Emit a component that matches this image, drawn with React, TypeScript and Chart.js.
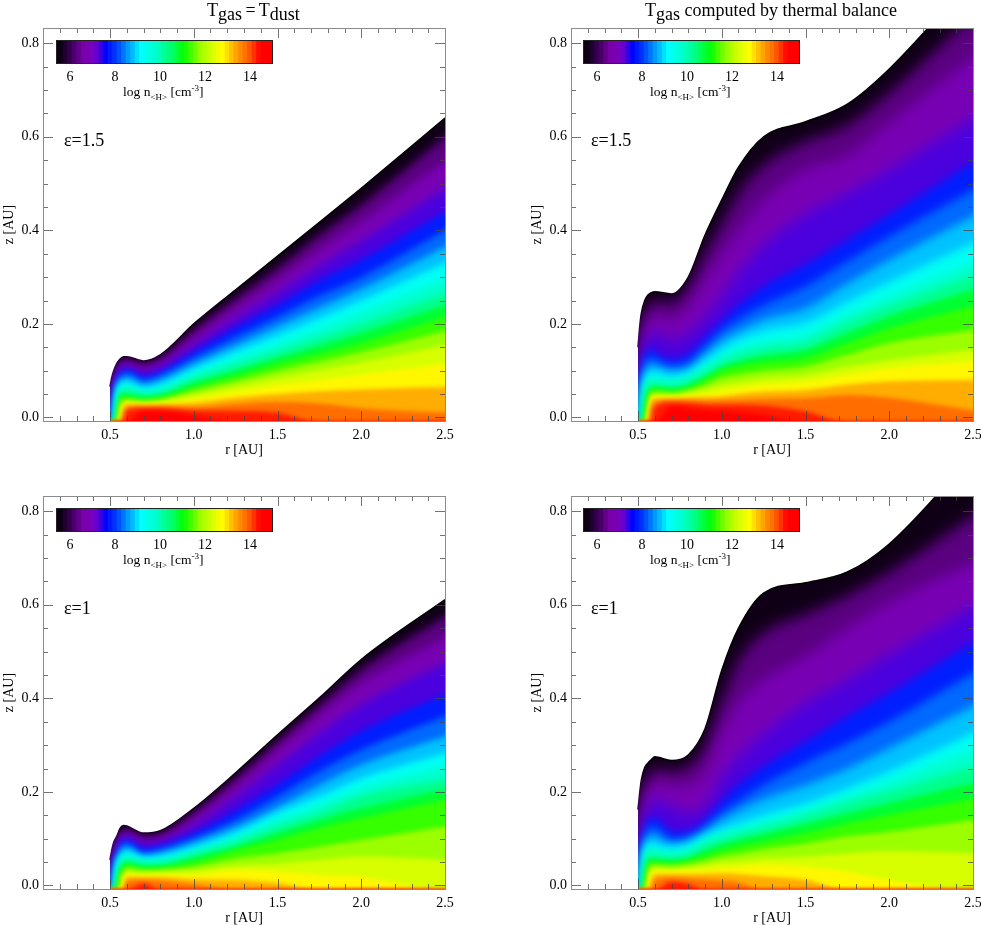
import React, { useEffect, useRef } from "react";
import { Chart, registerables } from "chart.js";

Chart.register(...registerables);

const SERIF = "'Liberation Serif', 'Times New Roman', serif";

// Contour levels: log n = 5.5, 6, 6.5 ... 14.5. Each column below lists z [AU] of these levels
// at one radius; a level missing from a column lies below the plot at that radius.
const LEVELS = [5.5, 6, 6.5, 7, 7.5, 8, 8.5, 9, 9.5, 10, 10.5, 11, 11.5, 12, 12.5, 13, 13.5, 14, 14.5];
const BELOW = -0.01;

const radiiDust = [0.5, 0.51, 0.52, 0.54, 0.56, 0.58, 0.6, 0.7, 0.8, 1, 1.25, 1.5, 1.75, 2, 2.5];
const radiiGas = [0.5, 0.51, 0.52, 0.54, 0.56, 0.58, 0.6, 0.7, 0.8, 0.9, 1, 1.1, 1.25, 1.5, 1.75, 2, 2.5];

// Top left: eps = 1.5, Tgas = Tdust
const a050 = [0.066, 0.04, 0.02, 0.0];
const a051 = [0.085, 0.07, 0.055, 0.04, 0.02];
const a052 = [0.098, 0.088, 0.078, 0.068, 0.055, 0.04, 0.025];
const a054 = [0.115, 0.108, 0.1, 0.09, 0.08, 0.072, 0.065, 0.055, 0.042, 0.03, 0.01];
const a056 = [0.125, 0.12, 0.113, 0.105, 0.097, 0.088, 0.08, 0.072, 0.063, 0.056, 0.048, 0.04, 0.03, 0.018];
const a058 = [0.13, 0.124, 0.117, 0.109, 0.101, 0.092, 0.083, 0.074, 0.065, 0.057, 0.05, 0.044, 0.038, 0.032, 0.027, 0.02, 0.005];
const a060 = [0.13, 0.125, 0.118, 0.11, 0.103, 0.095, 0.085, 0.076, 0.066, 0.058, 0.05, 0.044, 0.038, 0.034, 0.03, 0.027, 0.022, 0.015];
const a070 = [0.121, 0.115, 0.108, 0.098, 0.088, 0.08, 0.071, 0.063, 0.056, 0.05, 0.044, 0.039, 0.035, 0.031, 0.028, 0.026, 0.023, 0.02, 0.014];
const a080 = [0.134, 0.127, 0.118, 0.108, 0.098, 0.09, 0.08, 0.07, 0.061, 0.054, 0.048, 0.043, 0.038, 0.034, 0.03, 0.027, 0.024, 0.02, 0.014];
const a100 = [0.2, 0.187, 0.172, 0.155, 0.14, 0.127, 0.115, 0.103, 0.093, 0.083, 0.074, 0.065, 0.057, 0.049, 0.04, 0.031, 0.022, 0.015, 0.005];
const a125 = [0.273, 0.255, 0.235, 0.212, 0.192, 0.172, 0.155, 0.14, 0.125, 0.112, 0.1, 0.089, 0.078, 0.067, 0.055, 0.042, 0.029, 0.014];
const a150 = [0.345, 0.32, 0.295, 0.267, 0.24, 0.215, 0.195, 0.175, 0.157, 0.14, 0.127, 0.115, 0.1, 0.085, 0.069, 0.05, 0.033, 0.01];
const a175 = [0.417, 0.39, 0.36, 0.325, 0.293, 0.26, 0.235, 0.212, 0.19, 0.17, 0.153, 0.137, 0.12, 0.102, 0.08, 0.056, 0.03];
const a200 = [0.49, 0.455, 0.42, 0.378, 0.337, 0.3, 0.275, 0.25, 0.225, 0.2, 0.18, 0.16, 0.14, 0.118, 0.092, 0.06, 0.02];
const a250 = [0.64, 0.6, 0.55, 0.49, 0.44, 0.4, 0.365, 0.33, 0.295, 0.265, 0.24, 0.215, 0.185, 0.155, 0.115, 0.065, 0.01];
const columnsA = [a050, a051, a052, a054, a056, a058, a060, a070, a080, a100, a125, a150, a175, a200, a250];

// Top right: eps = 1.5, thermal balance
const b050 = [0.15, 0.1, 0.06, 0.03, 0.01];
const b051 = [0.194, 0.16, 0.13, 0.1, 0.07, 0.04, 0.01];
const b052 = [0.223, 0.19, 0.16, 0.13, 0.105, 0.085, 0.06, 0.04, 0.015];
const b054 = [0.25, 0.225, 0.195, 0.165, 0.135, 0.115, 0.095, 0.08, 0.065, 0.05, 0.03, 0.005];
const b056 = [0.262, 0.24, 0.21, 0.175, 0.145, 0.125, 0.108, 0.093, 0.08, 0.068, 0.058, 0.047, 0.035, 0.02];
const b058 = [0.267, 0.245, 0.218, 0.18, 0.15, 0.13, 0.113, 0.098, 0.085, 0.074, 0.065, 0.058, 0.052, 0.046, 0.04, 0.033, 0.02];
const b060 = [0.269, 0.25, 0.222, 0.185, 0.14, 0.125, 0.11, 0.097, 0.083, 0.073, 0.066, 0.06, 0.054, 0.049, 0.044, 0.04, 0.033, 0.022];
const b070 = [0.264, 0.245, 0.21, 0.165, 0.125, 0.11, 0.1, 0.088, 0.078, 0.07, 0.063, 0.057, 0.052, 0.047, 0.043, 0.04, 0.037, 0.032, 0.024];
const b080 = [0.3, 0.28, 0.24, 0.18, 0.135, 0.118, 0.105, 0.095, 0.086, 0.077, 0.07, 0.063, 0.058, 0.052, 0.047, 0.042, 0.037, 0.031, 0.02];
const b090 = [0.39, 0.35, 0.295, 0.215, 0.17, 0.15, 0.135, 0.12, 0.108, 0.097, 0.088, 0.08, 0.07, 0.06, 0.05, 0.043, 0.036, 0.028, 0.016];
const b100 = [0.465, 0.415, 0.35, 0.26, 0.205, 0.185, 0.165, 0.145, 0.13, 0.118, 0.108, 0.1, 0.085, 0.07, 0.056, 0.045, 0.037, 0.027, 0.014];
const b110 = [0.535, 0.48, 0.4, 0.31, 0.24, 0.21, 0.185, 0.165, 0.148, 0.133, 0.12, 0.109, 0.092, 0.076, 0.063, 0.05, 0.038, 0.027, 0.012];
const b125 = [0.6, 0.54, 0.465, 0.37, 0.28, 0.24, 0.21, 0.185, 0.162, 0.146, 0.132, 0.118, 0.1, 0.084, 0.07, 0.055, 0.04, 0.025, 0.006];
const b150 = [0.632, 0.59, 0.53, 0.435, 0.327, 0.28, 0.234, 0.202, 0.177, 0.159, 0.145, 0.127, 0.109, 0.091, 0.077, 0.059, 0.041, 0.013];
const b175 = [0.67, 0.625, 0.56, 0.48, 0.38, 0.334, 0.287, 0.247, 0.22, 0.202, 0.18, 0.159, 0.134, 0.109, 0.091, 0.07, 0.048];
const b200 = [0.745, 0.695, 0.63, 0.53, 0.434, 0.387, 0.337, 0.29, 0.259, 0.237, 0.216, 0.191, 0.159, 0.123, 0.105, 0.077, 0.042];
const b250 = [0.94, 0.86, 0.77, 0.64, 0.545, 0.487, 0.43, 0.373, 0.33, 0.302, 0.273, 0.238, 0.187, 0.145, 0.12, 0.08, 0.015];
const columnsB = [b050, b051, b052, b054, b056, b058, b060, b070, b080, b090, b100, b110, b125, b150, b175, b200, b250];

// Bottom left: eps = 1, Tgas = Tdust
const c050 = [0.055, 0.035, 0.015];
const c051 = [0.075, 0.06, 0.048, 0.032, 0.015];
const c052 = [0.09, 0.08, 0.07, 0.06, 0.048, 0.035, 0.02];
const c054 = [0.105, 0.098, 0.09, 0.08, 0.07, 0.062, 0.055, 0.047, 0.035, 0.022, 0.005];
const c056 = [0.122, 0.113, 0.105, 0.097, 0.088, 0.08, 0.07, 0.062, 0.054, 0.045, 0.036, 0.027, 0.015];
const c058 = [0.128, 0.12, 0.112, 0.105, 0.097, 0.088, 0.08, 0.07, 0.062, 0.053, 0.045, 0.038, 0.03, 0.022, 0.012];
const c060 = [0.127, 0.12, 0.113, 0.105, 0.098, 0.09, 0.08, 0.072, 0.063, 0.055, 0.05, 0.044, 0.037, 0.03, 0.024, 0.018, 0.01];
const c070 = [0.112, 0.105, 0.098, 0.09, 0.08, 0.07, 0.064, 0.059, 0.054, 0.047, 0.042, 0.037, 0.032, 0.027, 0.022, 0.017, 0.012, 0.004];
const c080 = [0.117, 0.11, 0.102, 0.094, 0.085, 0.077, 0.069, 0.062, 0.055, 0.048, 0.043, 0.038, 0.033, 0.028, 0.023, 0.017, 0.01];
const c100 = [0.165, 0.155, 0.145, 0.128, 0.112, 0.1, 0.092, 0.08, 0.074, 0.068, 0.06, 0.05, 0.04, 0.032, 0.023, 0.013, 0.002];
const c125 = [0.241, 0.229, 0.213, 0.19, 0.16, 0.14, 0.125, 0.112, 0.103, 0.093, 0.083, 0.076, 0.058, 0.042, 0.033, 0.012];
const c150 = [0.322, 0.308, 0.29, 0.258, 0.215, 0.19, 0.168, 0.155, 0.14, 0.126, 0.112, 0.098, 0.069, 0.047, 0.03, 0.005];
const c175 = [0.401, 0.386, 0.365, 0.326, 0.276, 0.244, 0.215, 0.19, 0.173, 0.155, 0.14, 0.123, 0.083, 0.055, 0.023];
const c200 = [0.483, 0.462, 0.433, 0.387, 0.33, 0.29, 0.258, 0.229, 0.208, 0.19, 0.165, 0.144, 0.097, 0.062, 0.019];
const c250 = [0.611, 0.575, 0.53, 0.476, 0.408, 0.362, 0.319, 0.283, 0.255, 0.226, 0.205, 0.183, 0.126, 0.055];
const columnsC = [c050, c051, c052, c054, c056, c058, c060, c070, c080, c100, c125, c150, c175, c200, c250];

// Bottom right: eps = 1, thermal balance
const d050 = [0.162, 0.11, 0.065, 0.03, 0.008];
const d051 = [0.198, 0.16, 0.125, 0.09, 0.06, 0.035, 0.008];
const d052 = [0.226, 0.19, 0.155, 0.125, 0.095, 0.075, 0.055, 0.035, 0.012];
const d054 = [0.252, 0.222, 0.19, 0.155, 0.125, 0.105, 0.09, 0.077, 0.063, 0.048, 0.03, 0.008];
const d056 = [0.262, 0.235, 0.205, 0.17, 0.14, 0.12, 0.103, 0.09, 0.078, 0.066, 0.055, 0.045, 0.035, 0.02];
const d058 = [0.269, 0.245, 0.215, 0.18, 0.145, 0.125, 0.108, 0.092, 0.078, 0.068, 0.058, 0.05, 0.043, 0.035, 0.025, 0.012];
const d060 = [0.275, 0.25, 0.22, 0.185, 0.145, 0.125, 0.105, 0.088, 0.074, 0.065, 0.057, 0.05, 0.044, 0.038, 0.031, 0.024, 0.012];
const d070 = [0.267, 0.245, 0.215, 0.17, 0.115, 0.098, 0.09, 0.08, 0.07, 0.062, 0.055, 0.048, 0.042, 0.036, 0.03, 0.024, 0.017, 0.008];
const d080 = [0.279, 0.255, 0.215, 0.155, 0.115, 0.103, 0.095, 0.087, 0.075, 0.067, 0.06, 0.054, 0.046, 0.039, 0.032, 0.024, 0.015, 0.003];
const d090 = [0.335, 0.295, 0.245, 0.17, 0.14, 0.125, 0.115, 0.105, 0.095, 0.088, 0.075, 0.064, 0.053, 0.044, 0.034, 0.025, 0.013];
const d100 = [0.46, 0.395, 0.33, 0.235, 0.18, 0.155, 0.14, 0.12, 0.11, 0.1, 0.088, 0.076, 0.063, 0.05, 0.038, 0.026, 0.01];
const d110 = [0.55, 0.48, 0.39, 0.275, 0.215, 0.18, 0.16, 0.132, 0.12, 0.11, 0.098, 0.084, 0.068, 0.053, 0.04, 0.024, 0.006];
const d125 = [0.625, 0.54, 0.44, 0.325, 0.255, 0.215, 0.185, 0.15, 0.135, 0.123, 0.11, 0.094, 0.078, 0.058, 0.045, 0.02];
const d150 = [0.647, 0.58, 0.49, 0.39, 0.308, 0.262, 0.215, 0.176, 0.161, 0.147, 0.132, 0.112, 0.09, 0.062, 0.04, 0.012];
const d175 = [0.67, 0.62, 0.55, 0.44, 0.361, 0.304, 0.25, 0.208, 0.19, 0.176, 0.154, 0.133, 0.105, 0.069, 0.03];
const d200 = [0.73, 0.67, 0.605, 0.494, 0.412, 0.35, 0.294, 0.244, 0.222, 0.2, 0.176, 0.151, 0.115, 0.073, 0.012];
const d250 = [0.92, 0.79, 0.69, 0.597, 0.519, 0.454, 0.383, 0.326, 0.29, 0.254, 0.219, 0.186, 0.14, 0.069];
const columnsD = [d050, d051, d052, d054, d056, d058, d060, d070, d080, d090, d100, d110, d125, d150, d175, d200, d250];

// Colour table of the colour bar: log n, r, g, b
const colourStops = [
  [5.4, 0, 0, 0], [6, 60, 0, 90], [6.5, 120, 0, 165], [7, 120, 0, 195], [7.2, 90, 0, 215], [7.5, 0, 0, 255],
  [8, 0, 60, 255], [8.5, 0, 150, 255], [9.1, 0, 255, 255], [9.8, 0, 255, 200], [10.5, 0, 255, 100], [11, 0, 255, 0],
  [11.7, 150, 255, 0], [12.2, 210, 255, 0], [12.7, 255, 255, 0], [13.3, 255, 165, 0], [13.9, 255, 90, 0], [14.4, 255, 0, 0], [15, 255, 0, 0],
];

const colourOf = (level: number) => {
  for (let i = 1; i < colourStops.length; i++) {
    const a = colourStops[i - 1];
    const b = colourStops[i];
    if (level <= b[0]) {
      const t = Math.max(0, (level - a[0]) / (b[0] - a[0]));
      return `rgb(${[1, 2, 3].map((k) => Math.round(a[k] + (b[k] - a[k]) * t)).join(",")})`;
    }
  }
  return "rgb(255,0,0)";
};

const R_MIN = 0.1;
const R_MAX = 2.5;
const R_GUARD = 2.75; // outside the plot: keeps the softened band edges from fading at the right axis
const Z_MIN = -0.0075;
const Z_MAX = 0.8325;
const FILL_FLOOR = -0.06; // below the plot, for the same reason at the bottom axis
const BAR_MIN = 5.42;
const BAR_MAX = 14.98;
const BAR_STEP = 0.2;

const near = (v: number, step: number) => Math.abs(v / step - Math.round(v / step)) < 1e-6;

const softBands = (wide: boolean) => ({
  id: "softBands",
  beforeDatasetsDraw(chart: any) {
    chart.ctx.save();
  },
  afterDatasetDraw(chart: any, args: any) {
    const next = args.index - 1;
    if (next < 0) return;
    const level = chart.data.datasets[next].level;
    const sigma = level <= 7 ? (wide ? 7 : 4) : level <= 10 ? (wide ? 4 : 3) : 2;
    chart.ctx.globalCompositeOperation = "source-atop";
    chart.ctx.filter = `blur(${sigma}px)`;
  },
  afterDatasetsDraw(chart: any) {
    chart.ctx.restore();
  },
});

const framePlugin = {
  id: "frame",
  afterDatasetsDraw(chart: any) {
    const { ctx, chartArea: a, scales } = chart;
    ctx.save();
    ctx.lineWidth = 1;
    ctx.strokeStyle = "rgba(70,70,70,0.75)";
    ctx.beginPath();
    scales.x.ticks.forEach((t: any) => {
      const x = Math.round(scales.x.getPixelForValue(t.value)) + 0.5;
      const len = near(t.value, 0.5) ? 10 : 5;
      ctx.moveTo(x, a.bottom);
      ctx.lineTo(x, a.bottom - len);
      ctx.moveTo(x, a.top);
      ctx.lineTo(x, a.top + len);
    });
    scales.y.ticks.forEach((t: any) => {
      const y = Math.round(scales.y.getPixelForValue(t.value)) + 0.5;
      const len = near(t.value, 0.2) ? 10 : 5;
      ctx.moveTo(a.left, y);
      ctx.lineTo(a.left + len, y);
      ctx.moveTo(a.right, y);
      ctx.lineTo(a.right - len, y);
    });
    ctx.stroke();
    ctx.strokeStyle = "#8c8c8c";
    ctx.strokeRect(a.left + 0.5, a.top + 0.5, a.right - a.left, a.bottom - a.top);
    ctx.restore();
  },
};

const barFramePlugin = {
  id: "barFrame",
  afterDatasetsDraw(chart: any) {
    const { ctx, chartArea: a } = chart;
    ctx.save();
    ctx.strokeStyle = "#222";
    ctx.lineWidth = 1;
    ctx.strokeRect(a.left - 0.5, a.top - 0.5, a.right - a.left + 1, a.bottom - a.top + 1);
    ctx.restore();
  },
};

const textFont = { family: SERIF, size: 14 };
const noGrid = { display: false, drawTicks: false, tickLength: 0 };

function Panel({ left, top, radii, columns, epsilon, barLeft, wide }: any) {
  const mainRef = useRef<HTMLCanvasElement>(null);
  const barRef = useRef<HTMLCanvasElement>(null);

  useEffect(() => {
    const last = radii.length - 1;
    const datasets = LEVELS.map((level, i) => {
      const zAt = (k: number) => columns[k][i] ?? BELOW;
      const slope = (zAt(last) - zAt(last - 1)) / (radii[last] - radii[last - 1]);
      return {
        label: `log n ${level}`,
        level,
        data: [
          ...radii.map((r: number, k: number) => ({ x: r, y: zAt(k) })),
          { x: R_GUARD, y: zAt(last) <= 0 ? BELOW : zAt(last) + slope * (R_GUARD - R_MAX) },
        ],
        backgroundColor: colourOf(i === 0 ? 5.55 : level + 0.25),
        borderColor: "#000",
        borderWidth: i === 0 ? 1.5 : 0,
        pointRadius: 0,
        fill: { value: FILL_FLOOR },
        cubicInterpolationMode: "monotone",
      };
    }).reverse();

    const main = new Chart(mainRef.current!, {
      type: "line",
      data: { datasets },
      plugins: [softBands(wide), framePlugin],
      options: {
        animation: false,
        responsive: false,
        events: [],
        layout: { autoPadding: false, padding: { top: 28, right: 16 } },
        plugins: { legend: { display: false }, tooltip: { enabled: false } },
        scales: {
          x: {
            type: "linear",
            min: R_MIN,
            max: R_MAX,
            grid: noGrid,
            border: { display: false },
            ticks: {
              stepSize: 0.1,
              autoSkip: false,
              maxRotation: 0,
              minRotation: 0,
              padding: 6,
              color: "#000",
              font: textFont,
              callback: (v: any) => (near(v, 0.5) ? Number(v).toFixed(1) : ""),
            },
            title: { display: true, text: "r [AU]", color: "#000", font: textFont, padding: { top: 0, bottom: 3 } },
            afterFit: (s: any) => {
              s.height = 41;
              s.paddingLeft = 0;
              s.paddingRight = 0;
            },
          },
          y: {
            type: "linear",
            min: Z_MIN,
            max: Z_MAX,
            grid: noGrid,
            border: { display: false },
            ticks: {
              stepSize: 0.05,
              autoSkip: false,
              includeBounds: false,
              padding: 4,
              color: "#000",
              font: textFont,
              callback: (v: any) => (near(v, 0.2) ? Number(v).toFixed(1) : ""),
            },
            title: { display: true, text: "z [AU]", color: "#000", font: textFont, padding: { top: 1, bottom: 0 } },
            afterFit: (s: any) => {
              s.width = 43;
              s.paddingTop = 0;
              s.paddingBottom = 0;
            },
          },
        },
      } as any,
    } as any);

    const edges: number[] = [];
    for (let e = BAR_MIN; e < BAR_MAX; e += BAR_STEP) edges.push(e);
    const bar = new Chart(barRef.current!, {
      type: "bar",
      data: {
        labels: ["log n"],
        datasets: edges.map((e) => ({
          label: e.toFixed(1),
          data: [[e, Math.min(e + BAR_STEP + 0.04, BAR_MAX)]],
          backgroundColor: colourOf(e + BAR_STEP / 2),
          grouped: false,
          barPercentage: 1,
          categoryPercentage: 1,
        })),
      },
      plugins: [barFramePlugin],
      options: {
        animation: false,
        responsive: false,
        events: [],
        indexAxis: "y",
        layout: { autoPadding: false, padding: { top: 8, left: 14, right: 11, bottom: 0 } },
        plugins: { legend: { display: false }, tooltip: { enabled: false } },
        scales: {
          x: {
            type: "linear",
            min: BAR_MIN,
            max: BAR_MAX,
            grid: noGrid,
            border: { display: false },
            ticks: { stepSize: 2, includeBounds: false, maxRotation: 0, padding: 6, color: "#000", font: textFont },
            afterFit: (s: any) => { s.height = 25; },
          },
          y: { type: "category", display: false },
        },
      } as any,
    } as any);

    return () => {
      main.destroy();
      bar.destroy();
    };
  }, []);

  const abs = (l: number, t: number): React.CSSProperties => ({ position: "absolute", left: l, top: t, whiteSpace: "nowrap", fontFamily: SERIF, color: "#000", lineHeight: 1 });

  return (
    <>
      <canvas ref={mainRef} width={461} height={462} style={{ position: "absolute", left, top, width: 461, height: 462 }} />
      <canvas ref={barRef} width={240} height={55} style={{ position: "absolute", left: barLeft - 14, top: top + 33, width: 240, height: 55 }} />
      <div style={{ ...abs(barLeft + 66, top + 85), fontSize: 13.5 }}>
        log n<sub style={{ fontSize: 9, lineHeight: 0 }}>&lt;H&gt;</sub> [cm<sup style={{ fontSize: 9, lineHeight: 0 }}>-3</sup>]
      </div>
      <div style={{ ...abs(barLeft + 7, top + 131), fontSize: 18 }}>{epsilon}</div>
    </>
  );
}

export default function App() {
  const gasSub: React.CSSProperties = { position: "relative", top: 4 };
  return (
    <div style={{ position: "absolute", left: 0, top: 0, width: 981, height: 925, overflow: "hidden", background: "#fff" }}>
      <Panel left={0} top={0} barLeft={57} radii={radiiDust} columns={columnsA} epsilon="ε=1.5" wide={false} />
      <Panel left={528} top={0} barLeft={584} radii={radiiGas} columns={columnsB} epsilon="ε=1.5" wide={true} />
      <Panel left={0} top={468} barLeft={57} radii={radiiDust} columns={columnsC} epsilon="ε=1" wide={false} />
      <Panel left={528} top={468} barLeft={584} radii={radiiGas} columns={columnsD} epsilon="ε=1" wide={true} />
      <div style={{ position: "absolute", left: 207, top: 1, fontFamily: SERIF, fontSize: 18, lineHeight: 1, whiteSpace: "nowrap", wordSpacing: -1 }}>
        T<span style={gasSub}>gas</span> = T<span style={gasSub}>dust</span>
      </div>
      <div style={{ position: "absolute", left: 645, top: 1, fontFamily: SERIF, fontSize: 18, lineHeight: 1, whiteSpace: "nowrap" }}>
        T<span style={gasSub}>gas</span> computed by thermal balance
      </div>
    </div>
  );
}
